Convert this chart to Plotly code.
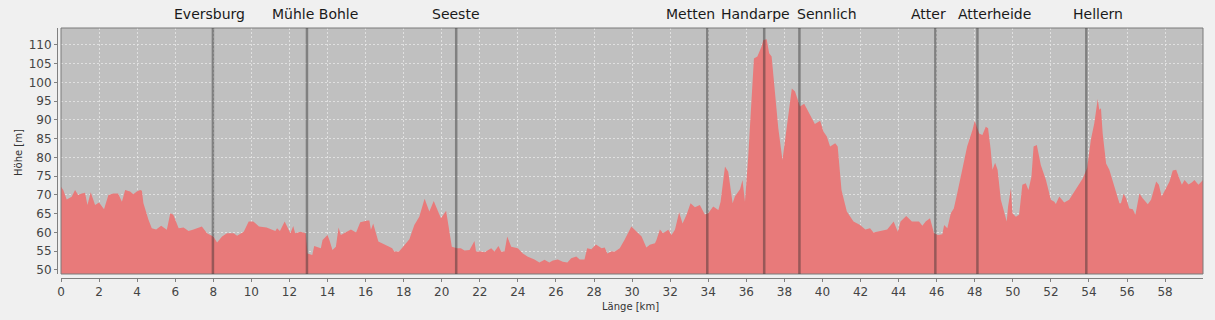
import plotly.graph_objects as go

# ---------------- data ----------------
km = [0, 0.12, 0.3, 0.56, 0.74, 0.9, 1.09, 1.26, 1.39, 1.56, 1.79, 2.0, 2.26, 2.49, 2.75, 3.0, 3.2, 3.37, 3.63, 3.8,
      3.98, 4.16, 4.25, 4.33, 4.6, 4.77, 5.0, 5.26, 5.56, 5.74, 5.9, 6.18, 6.44, 6.7, 6.96, 7.4, 7.67, 8.0, 8.2, 8.46,
      8.72, 9.07, 9.25, 9.6, 9.86, 10.1, 10.4, 10.8, 11.26, 11.35, 11.5, 11.75, 11.96, 12.05, 12.2, 12.3, 12.58, 12.86,
      12.95, 13.2, 13.3, 13.65, 13.74, 14.0, 14.1, 14.26, 14.44, 14.58, 14.7, 14.88, 15.23, 15.5, 15.72, 16.1, 16.2,
      16.28, 16.4, 16.67, 16.9, 17.16, 17.4, 17.5, 17.76, 18.0, 18.3, 18.56, 18.82, 19.1, 19.23, 19.35, 19.58, 19.79,
      19.96, 20.23, 20.4, 20.53, 20.8, 21.0, 21.2, 21.46, 21.72, 21.8, 22.07, 22.25, 22.6, 22.77, 22.98, 23.12, 23.3,
      23.44, 23.65, 24.0, 24.26, 24.5, 24.87, 25.13, 25.4, 25.65, 25.84, 26.1, 26.36, 26.6, 26.8, 27.07, 27.25, 27.5,
      27.64, 27.86, 28.1, 28.4, 28.56, 28.7, 28.9, 29.1, 29.35, 29.6, 29.96, 30.23, 30.5, 30.75, 30.93, 31.2, 31.28,
      31.46, 31.63, 31.9, 32.07, 32.25, 32.47, 32.65, 32.86, 33.07, 33.3, 33.56, 33.82, 34.0, 34.26, 34.53, 34.65,
      34.88, 35.05, 35.28, 35.4, 35.67, 35.8, 35.93, 36.1, 36.4, 36.58, 36.8, 36.9, 37.07, 37.2, 37.33, 37.5, 37.68,
      37.9, 38.12, 38.39, 38.56, 38.82, 39.04, 39.26, 39.6, 39.88, 40.05, 40.23, 40.4, 40.67, 40.8, 41.0, 41.28, 41.63,
      41.98, 42.25, 42.5, 42.68, 43.04, 43.4, 43.74, 43.96, 44.1, 44.4, 44.7, 45.07, 45.25, 45.42, 45.65, 45.86, 46.07,
      46.3, 46.39, 46.56, 46.74, 46.9, 47.1, 47.35, 47.6, 47.88, 48.0, 48.23, 48.4, 48.58, 48.7, 48.84, 48.93, 49.07,
      49.2, 49.37, 49.54, 49.68, 49.75, 49.9, 49.98, 50.16, 50.33, 50.5, 50.68, 50.82, 50.98, 51.09, 51.26, 51.47,
      51.74, 52.0, 52.18, 52.26, 52.44, 52.7, 52.96, 53.23, 53.4, 53.67, 53.9, 54.1, 54.28, 54.46, 54.54, 54.63, 54.72,
      54.9, 55.07, 55.25, 55.42, 55.6, 55.68, 55.82, 55.95, 56.12, 56.3, 56.44, 56.65, 56.82, 57.09, 57.26, 57.53,
      57.67, 57.82, 58.0, 58.23, 58.4, 58.58, 58.75, 58.88, 59.02, 59.23, 59.4, 59.54, 59.75, 60.0]

elevation = [72.2, 71.3, 68.8, 69.5, 71.3, 70, 70.4, 70.6, 67.3, 70.7, 67.3, 68, 66.2, 70, 70.4, 70.4, 68.2, 71.3, 70.9,
             70.2, 70.9, 71.3, 71.1, 67.8, 63.3, 61.1, 60.8, 61.8, 60.7, 65.1, 64.7, 61.1, 61.3, 60.4, 60.8, 61.6, 59.8,
             58.9, 57.3, 58.9, 59.8, 59.8, 59.1, 60.2, 62.9, 62.9, 61.6, 61.3, 60.4, 61.1, 60.4, 62.9, 60.7, 59.8, 61.7,
             59.8, 60.2, 59.8, 54.4, 54.0, 56.4, 55.8, 58, 59.3, 58, 55.3, 56.2, 61.3, 59.3, 59.8, 60.8, 60, 62.7, 63.2,
             63.2, 60.7, 62.4, 57.6, 57.1, 56.4, 55.8, 54.9, 54.9, 56.4, 58.2, 62, 64.2, 69, 67.3, 65.6, 68.4, 65.6, 63.8,
             65.8, 59.8, 56.2, 55.8, 55.8, 55.2, 55.3, 57.7, 54.9, 54.9, 54.7, 55.8, 54.9, 56.4, 54.9, 54.9, 58.9, 56.2,
             55.8, 54.4, 53.6, 52.8, 52, 52.7, 52, 52.5, 52.8, 52.2, 52, 53.1, 53.6, 52.8, 52.8, 55.8, 55.5, 56.8, 55.8,
             56, 54.4, 54.9, 54.9, 55.8, 58, 61.6, 60.2, 58.9, 56, 56.7, 57.1, 58, 60.8, 59.8, 60.7, 59.3, 60.7, 65.4,
             62.4, 64.7, 67.8, 66.7, 67.3, 64.8, 65.1, 66.9, 66, 68.2, 77.6, 76.2, 67.8, 69.6, 71.5, 74, 68.2, 80.2,
             106.4, 106.9, 109.6, 111.3, 111.5, 107.8, 106.9, 97.1, 87.8, 79.3, 88.2, 98.4, 97.6, 93.6, 94.3, 92.2, 88.9,
             89.8, 86.9, 85.6, 82.9, 83.8, 82.9, 71.3, 65.6, 62.9, 62, 60.8, 61.1, 60, 60.5, 60.8, 62.9, 60.2, 62.9, 64.4,
             62.9, 62.9, 61.8, 62.9, 63.8, 59.8, 59.3, 59.5, 62, 61.1, 65.1, 66.4, 70.9, 76.7, 82.9, 87.3, 89.8, 86.4, 86,
             88.2, 87.8, 82, 76.7, 78.6, 76.7, 68.7, 65.1, 62.9, 66.9, 71.8, 65.1, 64.2, 64.7, 72.7, 73.1, 71.3, 74.9,
             82.9, 83.3, 78, 74, 68.7, 68.2, 67.6, 69.6, 68, 68.7, 70.9, 72.2, 74.4, 77.1, 84.7, 89.1, 95.6, 92.7, 93.1,
             86.4, 78.4, 76.7, 73.6, 70.4, 67.8, 67.8, 70.3, 69.1, 66.4, 66.2, 64.7, 70.4, 69.1, 67.5, 68.7, 73.6, 72.7,
             69.6, 71.3, 73.6, 76.5, 76.7, 74.4, 72.7, 74, 72.8, 73.3, 74, 72.7, 74]

place_names = ["Eversburg", "Mühle Bohle", "Seeste", "Metten", "Handarpe", "Sennlich", "Atter", "Atterheide", "Hellern"]
place_km = [7.98, 12.92, 20.76, 33.95, 36.94, 38.79, 45.93, 48.14, 53.86]

y_ticks = [50, 55, 60, 65, 70, 75, 80, 85, 90, 95, 100, 105, 110]
x_ticks = list(range(0, 60, 2))

# ---------------- style ----------------
label_xshift = [-3, 8, 0, -17, -9, 28, -7, 17, 12]
FONT = "DejaVu Sans"
W, H = 1215, 320
L, R, T, B = 57, 12, 28, 42
gap = 4
xdom0 = gap / (W - L - R)
ydom0 = gap / (H - T - B)

fig = go.Figure()
fig.add_trace(go.Scatter(
    x=km, y=elevation, mode="lines", fill="tozeroy",
    line=dict(width=0, color="rgba(232,122,122,1)"),
    fillcolor="rgb(232,122,122)", hoverinfo="x+y", showlegend=False,
))

shapes = [dict(type="rect", xref="x domain", yref="y domain", x0=0, x1=1, y0=0, y1=1,
               line=dict(color="#7a7a7a", width=1), layer="above")]
annotations = []
for name, pk, dx in zip(place_names, place_km, label_xshift):
    shapes.append(dict(type="line", xref="x", yref="y domain", x0=pk, x1=pk, y0=0, y1=1,
                       line=dict(color="rgba(40,40,40,0.42)", width=2.5), layer="above"))
    annotations.append(dict(text=name, x=pk, xref="x", y=1, yref="paper", yanchor="middle",
                            yshift=14, xshift=dx, showarrow=False,
                            font=dict(family=FONT, size=14, color="#1a1a1a")))

annotations.append(dict(text="Länge [km]", x=0.5, xref="paper", y=0, yref="paper", yanchor="middle",
                        yshift=-28, showarrow=False, font=dict(family=FONT, size=10, color="#333")))
annotations.append(dict(text="Höhe [m]", x=0, xref="paper", y=0.5, yref="paper", xanchor="center",
                        xshift=-39, textangle=-90, showarrow=False,
                        font=dict(family=FONT, size=10, color="#333")))

fig.update_layout(
    width=W, height=H,
    margin=dict(l=L, r=R, t=T, b=B),
    paper_bgcolor="#f0f0f0", plot_bgcolor="#c0c0c0",
    shapes=shapes, annotations=annotations,
    xaxis=dict(domain=[xdom0, 1], range=[0, 59.99], anchor="free", position=0,
               tickvals=x_ticks, ticks="outside", ticklen=3, tickcolor="#808080",
               showline=True, linecolor="#808080", linewidth=1,
               showgrid=True, gridcolor="rgba(235,235,235,0.75)", griddash="2px,2px", gridwidth=1,
               zeroline=False, tickfont=dict(family=FONT, size=12, color="#444")),
    yaxis=dict(domain=[ydom0, 1], range=[48.9, 114.5], anchor="free", position=0,
               tickvals=y_ticks, ticks="outside", ticklen=3, tickcolor="#808080",
               showline=True, linecolor="#808080", linewidth=1,
               showgrid=True, gridcolor="rgba(235,235,235,0.75)", griddash="2px,2px", gridwidth=1,
               zeroline=False, tickfont=dict(family=FONT, size=12, color="#444")),
)

fig.write_html("out.html")
